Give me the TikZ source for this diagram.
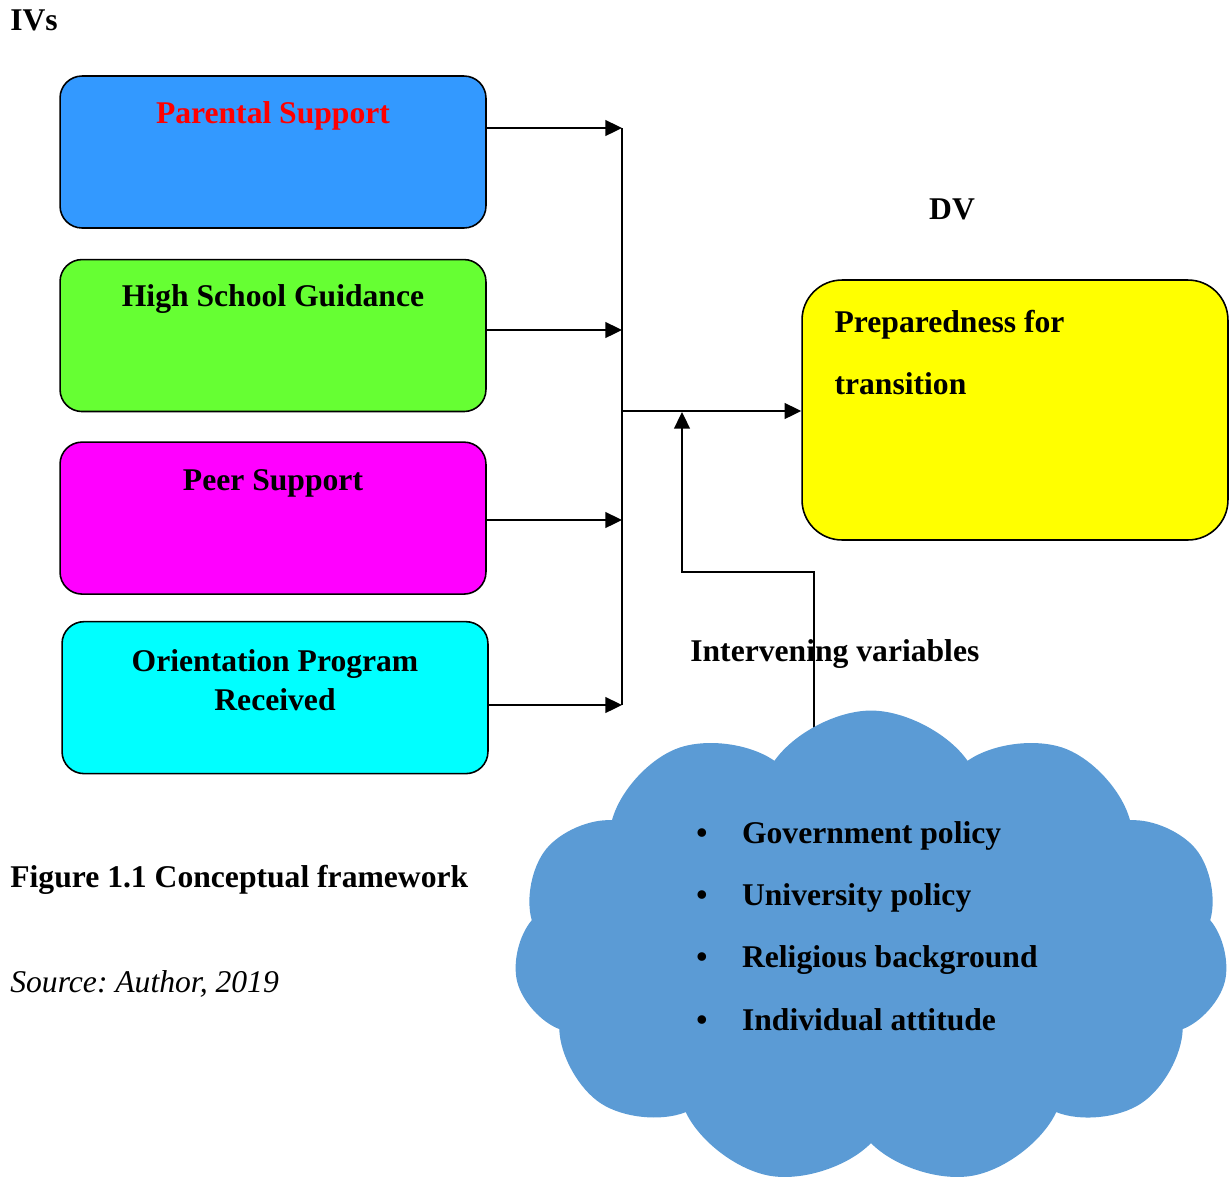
\documentclass[tikz,border=0pt]{standalone}
\usepackage{fontspec}
\setmainfont{Liberation Serif}
\frenchspacing
\usetikzlibrary{positioning, calc, arrows.meta, shapes.symbols}
\definecolor{ivblue}{RGB}{51,153,255}
\definecolor{ivgreen}{RGB}{102,255,51}
\definecolor{ivpink}{RGB}{255,0,255}
\definecolor{ivcyan}{RGB}{0,255,255}
\definecolor{dvyellow}{RGB}{255,255,0}
\definecolor{cloudblue}{RGB}{91,155,213}
\newcommand\bigbf{\fontsize{18}{22}\selectfont\bfseries}
\newcommand\widebf{\fontsize{18}{35.5}\selectfont\bfseries}
\newcommand\itm{\makebox[26pt][l]{\textbullet}}
\tikzset{
  ivbox/.style={draw=black,line width=0.9pt,rounded corners=0.44cm,
    minimum width=8.52cm,minimum height=3.04cm,inner sep=0pt},
  dvbox/.style={draw=black,line width=0.9pt,rounded corners=0.8cm,
    minimum width=8.52cm,minimum height=5.2cm,inner sep=0pt},
  boxtxt/.style={font=\bigbf,align=center,inner sep=0pt,anchor=center},
  txt/.style={font=\bigbf,inner sep=0pt,anchor=west},
  arr/.style={-{Triangle[length=9.5pt,width=9pt]},line width=1.1pt},
  wire/.style={line width=1.1pt},
}
\begin{document}
\begin{tikzpicture}[x=0.02cm,y=-0.02cm]
  \useasboundingbox (0,0) rectangle (1232,1181);
  \node[txt] (ivs) at (10,20) {IVs};
  % independent variables
  \node[ivbox,fill=ivblue] (ps) at (273,152)
    {};
  \path (ps.north) node[boxtxt,text=red,yshift=-0.82cm] (pstxt) {Parental Support};
  \node[ivbox,fill=ivgreen,below=0.6cm of ps] (hsg) {};
  \path (hsg.north) node[boxtxt,yshift=-0.8cm] (hsgtxt) {High School Guidance};
  \node[ivbox,fill=ivpink,below=0.58cm of hsg] (peer) {};
  \path (peer.north) node[boxtxt,yshift=-0.84cm] (peertxt) {Peer Support};
  \node[ivbox,fill=ivcyan,below=0.52cm of peer,xshift=0.04cm] (orient) {};
  \path (orient.north) node[boxtxt,yshift=-1.18cm] (orienttxt)
    {Orientation Program\\Received};
  % dependent variable
  \node[txt,anchor=center] (dv) at (952,209) {DV};
  \node[dvbox,fill=dvyellow] (prep) at (1015,410) {};
  \path (prep.north west) node[boxtxt,anchor=west,align=left,font=\widebf,
    xshift=0.66cm,yshift=-1.46cm] (preptxt) {Preparedness for\\transition};
  % bus
  \coordinate (bus1) at (622,128);
  \coordinate (bus2) at (622,330);
  \coordinate (bus3) at (622,520);
  \coordinate (bus4) at (622,705);
  \coordinate (jn) at (622,411);
  \draw[wire] (bus1) -- (bus4);
  \draw[arr] (ps.east |- bus1) -- (bus1);
  \draw[arr] (hsg.east |- bus2) -- (bus2);
  \draw[arr] (peer.east |- bus3) -- (bus3);
  \draw[arr] (orient.east |- bus4) -- (bus4);
  \draw[arr] (jn) -- (prep.west |- jn);
  % intervening variables
  \node[txt] (ivtitle) at (690,654) {Intervening variables};
  \coordinate (ivfoot) at (814,760);
  \coordinate (ivknee) at (682,572);
  \coordinate (hit) at (682,412);
  \draw[arr] (ivfoot) |- (ivknee) -- (hit);
  \node[cloud,cloud puffs=11,cloud puff arc=110,cloud ignores aspect,
    fill=cloudblue,minimum width=14.3cm,minimum height=9.5cm,
    inner sep=0pt] (ivcloud) at (871,948) {};
  \node[font=\widebf,align=left,inner sep=0pt] (ivlist)
    at ([xshift=-0.08cm,yshift=0.44cm]ivcloud.center)
    {\itm Government policy\\\itm University policy\\
     \itm Religious background\\\itm Individual attitude};
  % caption
  \node[txt] (cap) at (10,880) {Figure 1.1 Conceptual framework};
  \node[txt,font=\fontsize{18}{22}\selectfont\itshape] (src) at (10,984)
    {Source: Author, 2019};
\end{tikzpicture}
\end{document}
